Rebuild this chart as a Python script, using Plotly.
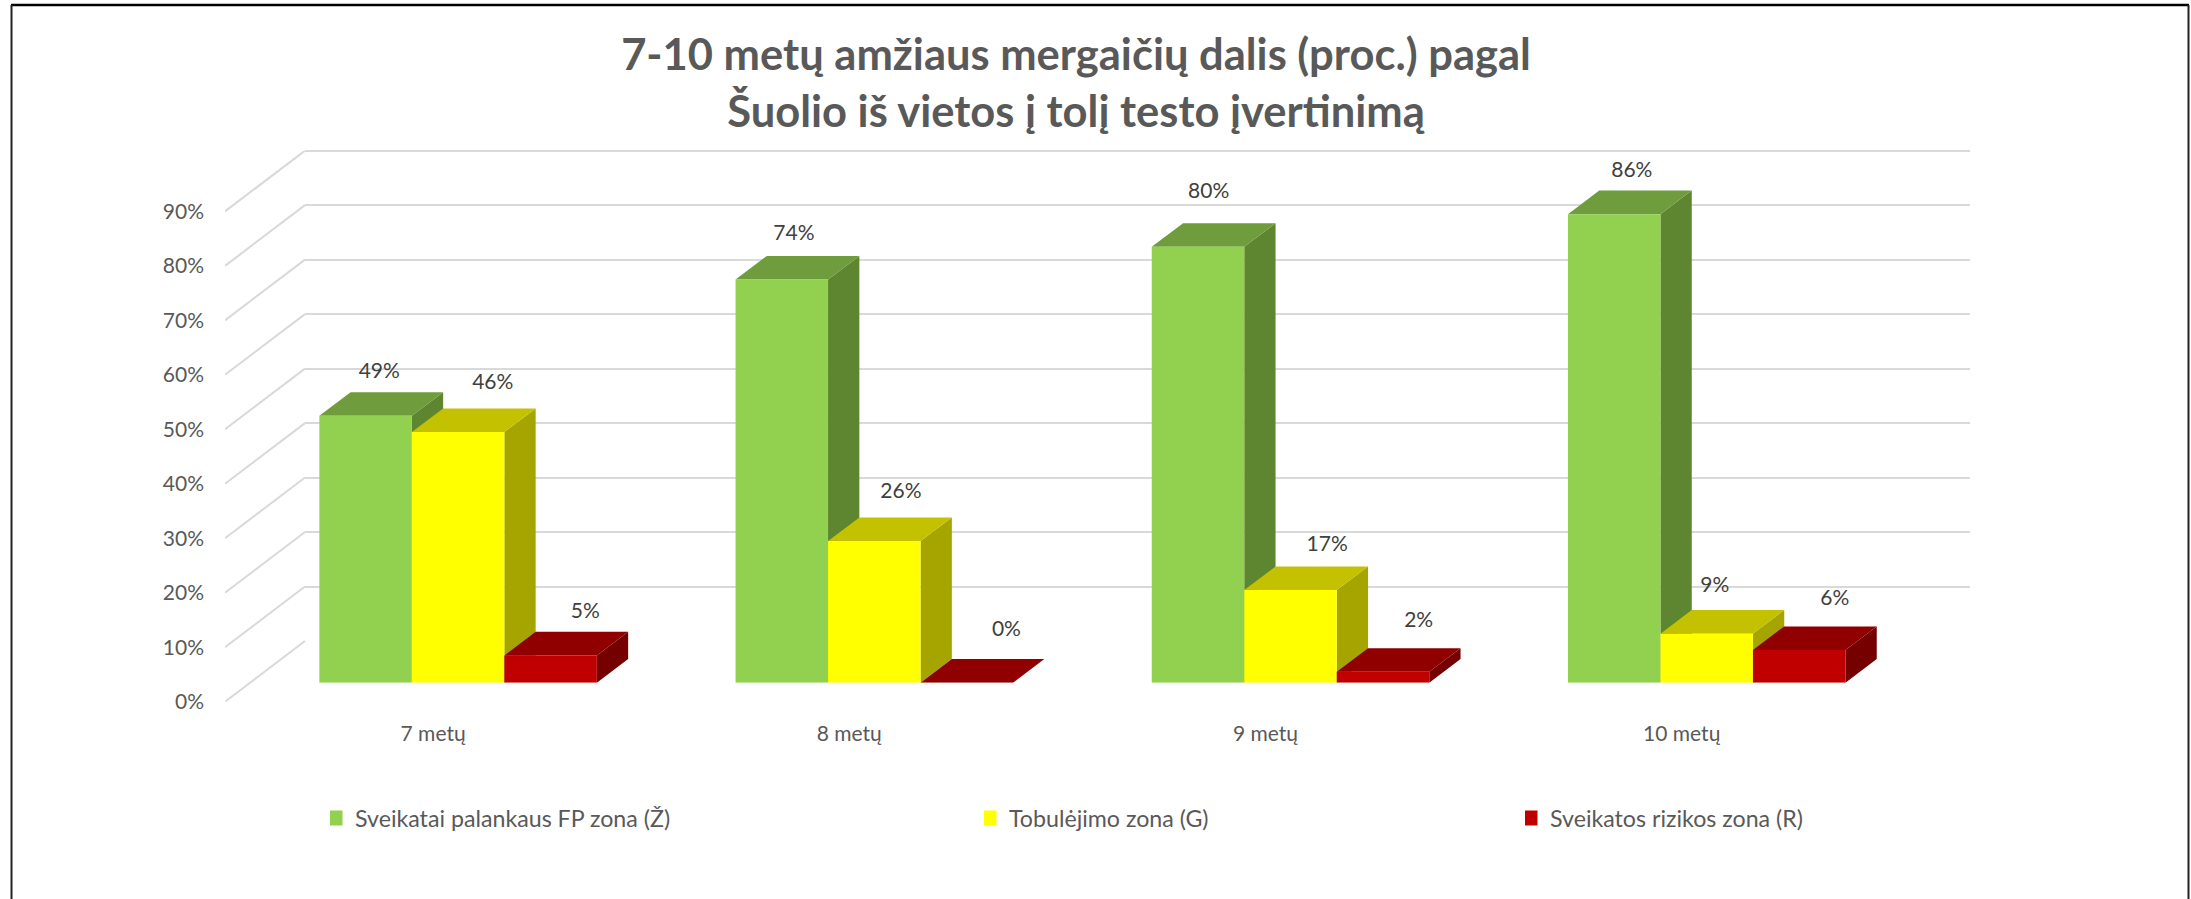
import plotly.graph_objects as go

# ---- data ----
categories = ["7 metų", "8 metų", "9 metų", "10 metų"]
series_names = ["Sveikatai palankaus FP zona (Ž)", "Tobulėjimo zona (G)", "Sveikatos rizikos zona (R)"]
green_values = [49, 74, 80, 86]
yellow_values = [46, 26, 17, 9]
red_values = [5, 0, 2, 6]
value_ticks = [0, 10, 20, 30, 40, 50, 60, 70, 80, 90]

# ---- styles ----
front_colors = ["#92D050", "#FFFF00", "#C00000"]
top_colors = ["#6F9C3D", "#C4C200", "#900000"]
side_colors = ["#5E8530", "#A6A500", "#750000"]
GRID = "#D9D9D9"
AXIS_TXT = "#595959"
LABEL_TXT = "#404040"
FONT = "Lato"
W, H = 2191, 899

# ---- layout geometry (pixels of the oblique projection) ----
PX_PER_PCT = 5.448
PX_PER_CAT = 416.2
FLOOR_FRONT_X, FLOOR_FRONT_Y = 225, 701.7
WALL_X0, WALL_X1, WALL_BASE_Y, WALL_TOP_Y = 305, 1970, 641, 150.7
BAR_X0, BAR_BASE_Y = 250, 682.7
BAR_DEPTH_X, BAR_DEPTH_Y = 31.3, 23.6
BAR_W = 92.5 / PX_PER_CAT
DX = BAR_DEPTH_X / PX_PER_CAT
DY = BAR_DEPTH_Y / PX_PER_PCT
SPAN = PX_PER_CAT * 4
WALL_PAD = 1  # percent units of spare axis above the top gridline, so it is drawn

# per-label nudges in pixels (x from centre of bar top, y above back of bar top)
label_dx = [[-2, -3.5, -5, 2], [19, 11, 21, -7.5], [19, 24, 20, 20]]
label_dy = [[19, 21, 30, 19], [25, 25, 21, 23], [19, 28, 26, 27]]


def fx(px):
    return px / W


def fy(px):
    return 1 - px / H


fig = go.Figure()
all_values = [green_values, yellow_values, red_values]
bar_left = [-1.5 * BAR_W + s * BAR_W for s in range(3)]

# keeps the back-wall subplot (native gridlines) alive
fig.add_trace(go.Scatter(x=[None], y=[None], mode="lines", showlegend=False, hoverinfo="skip"))

# slanted floor-to-wall grid lines, on the tick-label axes
for v in value_ticks:
    fig.add_trace(go.Scatter(
        x=[-0.5, -0.5 + (WALL_X0 - FLOOR_FRONT_X) / PX_PER_CAT],
        y=[v, v + (FLOOR_FRONT_Y - WALL_BASE_Y) / PX_PER_PCT],
        mode="lines", line=dict(color=GRID, width=2), showlegend=False,
        hoverinfo="skip", xaxis="x4", yaxis="y4", cliponaxis=False))

# side and top faces of each bar
for s, vals in enumerate(all_values):
    sx, sy, tx, ty = [], [], [], []
    for i, v in enumerate(vals):
        l = i + bar_left[s]
        r = l + BAR_W
        sx += [r, r + DX, r + DX, r, r, None]
        sy += [0, DY, v + DY, v, 0, None]
        tx += [l, l + DX, r + DX, r, l, None]
        ty += [v, v + DY, v + DY, v, v, None]
    fig.add_trace(go.Scatter(x=sx, y=sy, mode="lines", fill="toself", fillcolor=side_colors[s],
                             line=dict(width=0, color=side_colors[s]), showlegend=False,
                             hoverinfo="skip", xaxis="x2", yaxis="y2"))
    fig.add_trace(go.Scatter(x=tx, y=ty, mode="lines", fill="toself", fillcolor=top_colors[s],
                             line=dict(width=0, color=top_colors[s]), showlegend=False,
                             hoverinfo="skip", xaxis="x2", yaxis="y2"))

# front faces
for s, vals in enumerate(all_values):
    fig.add_trace(go.Bar(x=list(range(4)), y=vals, width=BAR_W, offset=bar_left[s],
                         marker=dict(color=front_colors[s], line=dict(width=0)),
                         name=series_names[s], showlegend=False, legendgroup=series_names[s],
                         xaxis="x3", yaxis="y3"))

# data labels
for s, vals in enumerate(all_values):
    xs = [i + bar_left[s] + BAR_W / 2 + DX / 2 + label_dx[s][i] / PX_PER_CAT for i in range(4)]
    ys = [v + DY + label_dy[s][i] / PX_PER_PCT for i, v in enumerate(vals)]
    fig.add_trace(go.Scatter(x=xs, y=ys, mode="text", text=[f"{v}%" for v in vals],
                             textposition="middle center", showlegend=False, hoverinfo="skip",
                             textfont=dict(family=FONT, size=21, color=LABEL_TXT),
                             xaxis="x3", yaxis="y3", cliponaxis=False))

# legend entries
legend_ids = ["legend", "legend2", "legend3"]
for s in range(3):
    fig.add_trace(go.Scatter(x=[None], y=[None], mode="markers", name=series_names[s],
                             marker=dict(symbol="square", size=15, color=front_colors[s]),
                             legend=legend_ids[s], legendgroup=series_names[s],
                             xaxis="x3", yaxis="y3"))


def legend_cfg(px):
    return dict(x=fx(px), y=fy(818.5), xanchor="left", yanchor="middle", orientation="h",
                bgcolor="rgba(0,0,0,0)", itemwidth=30, indentation=-15,
                font=dict(family=FONT, size=23.2, color=AXIS_TXT))


bar_y_top = (BAR_BASE_Y - WALL_TOP_Y) / PX_PER_PCT
label_y_top = (FLOOR_FRONT_Y - WALL_TOP_Y) / PX_PER_PCT
hidden = dict(visible=False, fixedrange=True)
tick_txt = dict(family=FONT, size=21, color=AXIS_TXT)

fig.update_layout(
    width=W, height=H, autosize=False,
    margin=dict(l=0, r=0, t=0, b=0, autoexpand=False),
    paper_bgcolor="white", plot_bgcolor="rgba(0,0,0,0)", barmode="overlay",
    font=dict(family=FONT, color=AXIS_TXT),
    title=dict(text="7-10 metų amžiaus mergaičių dalis (proc.) pagal<br>Šuolio iš vietos į tolį testo įvertinimą",
               x=fx(1076), xanchor="center", y=fy(70), yanchor="top",
               font=dict(family=FONT, size=43.5, weight="bold", color=AXIS_TXT)),
    # back wall with gridlines
    xaxis=dict(domain=[fx(WALL_X0), fx(WALL_X1)], range=[0, 1], showgrid=False, showticklabels=False,
               zeroline=False, showline=False, ticks="", fixedrange=True, anchor="y"),
    yaxis=dict(domain=[fy(WALL_BASE_Y), fy(WALL_TOP_Y - WALL_PAD * PX_PER_PCT)], range=[0, 90 + WALL_PAD],
               tickvals=value_ticks, showgrid=True, gridcolor=GRID, gridwidth=2, showticklabels=False,
               zeroline=False, showline=False, ticks="", fixedrange=True, anchor="x"),
    # bar side/top faces
    xaxis2=dict(domain=[fx(BAR_X0), fx(BAR_X0 + SPAN)], range=[-0.5, 3.5], anchor="y2", **hidden),
    yaxis2=dict(domain=[fy(BAR_BASE_Y), fy(WALL_TOP_Y)], range=[0, bar_y_top], anchor="x2", **hidden),
    # bar front faces and data labels, on top
    xaxis3=dict(overlaying="x2", range=[-0.5, 3.5], anchor="y3", **hidden),
    yaxis3=dict(overlaying="y2", range=[0, bar_y_top], anchor="x3", **hidden),
    # tick labels at the front edge of the floor
    xaxis4=dict(domain=[fx(FLOOR_FRONT_X), fx(FLOOR_FRONT_X + SPAN)], range=[-0.5, 3.5],
                tickvals=list(range(4)), ticktext=categories, showgrid=False, zeroline=False,
                showline=False, ticks="", ticklabelstandoff=17, tickfont=tick_txt,
                fixedrange=True, anchor="y4"),
    yaxis4=dict(domain=[fy(FLOOR_FRONT_Y), fy(WALL_TOP_Y)], range=[0, label_y_top],
                tickvals=value_ticks, ticktext=[f"{v}%" for v in value_ticks], showgrid=False,
                zeroline=False, showline=False, ticks="", ticklabelstandoff=20, tickfont=tick_txt,
                fixedrange=True, anchor="x4"),
    legend=legend_cfg(330),
    legend2=legend_cfg(984),
    legend3=legend_cfg(1525),
    shapes=[
        dict(type="line", xref="paper", yref="paper", x0=fx(11), x1=fx(2189), y0=fy(5), y1=fy(5),
             line=dict(color="black", width=2.5)),
        dict(type="line", xref="paper", yref="paper", x0=fx(11.5), x1=fx(11.5), y0=fy(5), y1=0,
             line=dict(color="#222222", width=2)),
        dict(type="line", xref="paper", yref="paper", x0=fx(2188.5), x1=fx(2188.5), y0=fy(5), y1=0,
             line=dict(color="#222222", width=2)),
    ],
)

fig.write_html("out.html", post_script="document.body.style.margin='0';",
               config=dict(displayModeBar=False))
